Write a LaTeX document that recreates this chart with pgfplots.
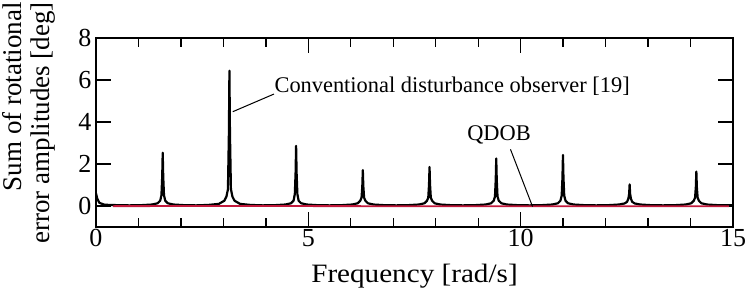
\documentclass[border=0pt]{standalone}
\usepackage{pgfplots}
\pgfplotsset{compat=1.18}
\usepackage{fontspec}
\setmainfont{Liberation Serif}
\definecolor{qred}{RGB}{195,25,60}
\begin{document}
\begin{tikzpicture}
\begin{axis}[
  scale only axis, width=637pt, height=189pt,
  xmin=0, xmax=15, ymin=-1, ymax=8,
  xtick={0,5,10,15}, minor xtick={1,2,3,4,6,7,8,9,11,12,13,14},
  ytick={0,2,4,6,8},
  tick align=inside, major tick length=15pt, minor tick length=9pt,
  every tick/.style={line width=1.3pt, black},
  axis line style={line width=1.5pt},
  tick label style={font=\fontsize{26}{26}\selectfont},
  xticklabel style={yshift=1pt},
  yticklabel style={xshift=-1pt},
  /pgf/number format/assume math mode=true,
  xlabel={\scalebox{1.1}[1]{Frequency [rad/s]}},
  xlabel style={font=\fontsize{26.5}{26}\selectfont, yshift=-10pt},
  clip=true,
]
\addplot[black, line width=2.2pt, line join=round] coordinates {
(0,0.6) (0.03,0.35) (0.08,0.15) (0.2,0.06) (0.5,0.04) (0.785,0.03)
(1.071,.04) (1.321,.07) (1.451,.13) (1.511,.25) (1.541,.51) (1.559,1.40) (1.571,2.54) (1.583,1.40) (1.601,.51) (1.631,.25) (1.691,.13) (1.821,.07) (2.071,.04)
(2.356,.03)
(2.642,.05) (2.892,.10) (3.022,.25) (3.072,.45) (3.107,.8) (3.130,3.54) (3.142,6.44) (3.154,3.54) (3.177,.8) (3.212,.45) (3.262,.25) (3.392,.10) (3.642,.05)
(3.927,.03)
(4.212,.04) (4.462,.07) (4.592,.13) (4.652,.25) (4.682,.57) (4.700,1.57) (4.712,2.86) (4.724,1.57) (4.742,.57) (4.772,.25) (4.832,.13) (4.962,.07) (5.212,.04)
(5.498,.03)
(5.783,.04) (6.033,.07) (6.163,.13) (6.223,.25) (6.253,.4) (6.271,.94) (6.283,1.71) (6.295,.94) (6.313,.4) (6.343,.25) (6.403,.13) (6.533,.07) (6.783,.04)
(7.069,.03)
(7.354,.04) (7.604,.07) (7.734,.13) (7.794,.25) (7.824,.4) (7.842,1.02) (7.854,1.86) (7.866,1.02) (7.884,.4) (7.914,.25) (7.974,.13) (8.104,.07) (8.354,.04)
(8.639,.03)
(8.925,.04) (9.175,.07) (9.305,.13) (9.365,.25) (9.395,.45) (9.413,1.24) (9.425,2.26) (9.437,1.24) (9.455,.45) (9.485,.25) (9.545,.13) (9.675,.07) (9.925,.04)
(10.21,.03)
(10.496,.04) (10.746,.07) (10.876,.13) (10.936,.25) (10.966,.49) (10.984,1.34) (10.996,2.43) (11.008,1.34) (11.026,.49) (11.056,.25) (11.116,.13) (11.246,.07) (11.496,.04)
(11.781,.03)
(12.066,.04) (12.316,.07) (12.446,.12) (12.506,.2) (12.536,.35) (12.554,.57) (12.566,1.03) (12.578,.57) (12.596,.35) (12.626,.2) (12.686,.12) (12.816,.07) (13.066,.04)
(13.352,.03)
(13.637,.04) (13.887,.07) (14.017,.13) (14.077,.25) (14.107,.4) (14.125,.9) (14.137,1.64) (14.149,.9) (14.167,.4) (14.197,.25) (14.257,.13) (14.387,.07) (14.637,.04)
(15,.03)
};
\addplot[qred, line width=1.9pt] coordinates {
(0.4,-0.01) (1.571,0.0) (3.142,0.0) (4.712,0.0) (6.283,-0.01) (7.854,-0.01) (9.425,-0.01) (10.996,-0.01) (12.566,-0.01) (14.137,-0.01) (14.9,-0.01)
};
\draw[line width=1pt] (axis cs:3.22,4.49) -- (axis cs:4.19,5.33);
\node[anchor=west, inner sep=0pt, font=\fontsize{22.4}{22}\selectfont] at (axis cs:4.2,5.72) {Conventional disturbance observer [19]};
\draw[line width=1pt] (axis cs:9.76,2.70) -- (axis cs:10.28,-0.03);
\node[inner sep=0pt, font=\fontsize{22.4}{22}\selectfont] at (axis cs:9.49,3.38) {QDOB};
\end{axis}
\node[rotate=90, anchor=east, align=right, inner sep=0pt, font=\fontsize{27}{28}\selectfont]
  at ([xshift=-67pt,yshift=36pt]current axis.north west) {Sum of rotational\\error amplitudes [deg]};
\pgfresetboundingbox
\path[use as bounding box] ([xshift=-96pt,yshift=-64pt]current axis.south west) rectangle ++(748pt,291pt);
\end{tikzpicture}
\end{document}
